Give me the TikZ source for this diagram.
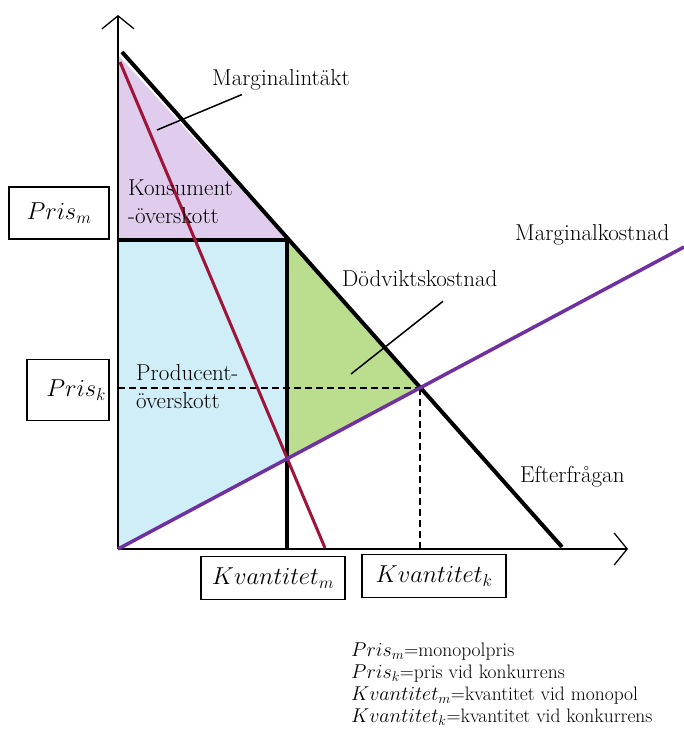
\RequirePackage{fix-cm}
\documentclass[tikz,border=0pt]{standalone}
\usetikzlibrary{positioning,arrows.meta}
\definecolor{cslila}{HTML}{E0CCEC}
\definecolor{psblue}{HTML}{D0EEF8}
\definecolor{dwgreen}{HTML}{BBDE8E}
\definecolor{mrred}{HTML}{A0143A}
\definecolor{mcviolet}{HTML}{7030A0}
\newcommand{\lblsize}{\fontsize{23}{28}\selectfont}
\newcommand{\boxsize}{\fontsize{24.5}{28}\selectfont}
\newcommand{\legsize}{\fontsize{19.5}{22}\selectfont}
\newcommand{\legmath}{\fontsize{20}{22}\selectfont}

\begin{document}
\begin{tikzpicture}[x=1pt,y=-1pt,
    lbl/.style={font=\lblsize,inner sep=0pt},
    valbox/.style={draw,line width=1.5pt,font=\boxsize,minimum width=144pt,minimum height=43pt,inner sep=0pt},
    ax/.style={line width=1.3pt,-{Straight Barb[length=13pt,width=32pt,line width=1.3pt]}},
    curve/.style={line width=4pt},
    guide/.style={line width=1.3pt,dash pattern=on 7pt off 4pt}]
  \useasboundingbox (0,0) rectangle (684,738);
  % points on the curves
  \coordinate (orig) at (118,549);
  \coordinate (ytop) at (118,15);
  \coordinate (xend) at (628,549);
  \coordinate (dtop) at (122,52);
  \coordinate (dbot) at (562,547);
  \coordinate (mrtop) at (120,62);
  \coordinate (mrbot) at (325,548);
  \coordinate (mcend) at (684,247);
  \coordinate (mono) at (287,240);
  \coordinate (pm) at (118,240);
  \coordinate (qm) at (287,548);
  \coordinate (eq) at (420,388);
  \coordinate (pk) at (118,388);
  \coordinate (qk) at (420,548);
  \coordinate (mcmr) at (287,459);
  % surplus areas
  \fill[cslila] (119,56) -- (mono) -- (pm) -- cycle;
  \fill[psblue] (pm) -- (mono) -- (mcmr) -- (orig) -- cycle;
  \fill[dwgreen] (mono) -- (eq) -- (mcmr) -- cycle;
  % guides and axes
  \draw[guide] (pk) -- (eq);
  \draw[guide] (eq) -- (qk);
  \draw[ax] (orig) -- (ytop);
  \draw[ax] (orig) -- (xend);
  \draw[line width=3.5pt] (pm) -- (mono) -- (qm);
  % curves
  \draw[curve] (dtop) -- (dbot);
  \draw[line width=3pt,mrred] (mrtop) -- (mrbot);
  \draw[line width=3.5pt,mcviolet] (orig) -- (mcend);
  % labels
  \node[lbl,anchor=west] (mrlbl) at (212,80) {Marginalintäkt};
  \node[lbl,anchor=west,align=left] (kslbl) at (128,202) {Konsument\\-överskott};
  \node[lbl,anchor=west,align=left] (pslbl) at (136,387) {Producent-\\överskott};
  \node[lbl,anchor=west] (dwlbl) at (342,279) {Dödviktskostnad};
  \node[lbl,anchor=west] (mclbl) at (515,235) {Marginalkostnad};
  \node[lbl,anchor=west] (dlbl) at (520,477) {Efterfrågan};
  \coordinate (mrpt) at (157,130);
  \coordinate (dwpt) at (351,374);
  \draw[line width=1.5pt] (mrpt) -- ([xshift=30pt,yshift=-4pt]mrlbl.south west);
  \draw[line width=1.5pt] (dwpt) -- ([xshift=101pt,yshift=-14pt]dwlbl.south west);
  % value boxes
  \node[valbox,minimum width=100pt,minimum height=52pt] (pmbox) at (59,213) {$Pris_m$};
  \node[valbox,minimum width=82pt,minimum height=61pt,text width=76pt,align=right] (pkbox) at (68,390) {$Pris_k$};
  \node[valbox] (qmbox) at (273,578) {$Kvantitet_m$};
  \node[valbox] (qkbox) at (434,576) {$Kvantitet_k$};
  % legend
  \foreach \lhs/\rhs [count=\i] in {{Pris_m}/monopolpris,{Pris_k}/pris vid konkurrens,{Kvantitet_m}/kvantitet vid monopol,{Kvantitet_k}/kvantitet vid konkurrens}
    \node[font=\legsize,anchor=base west,inner sep=0pt] (leg\i) at (351,635+21.8*\i) {{\legmath$\lhs$}=\rhs};
\end{tikzpicture}
\end{document}
